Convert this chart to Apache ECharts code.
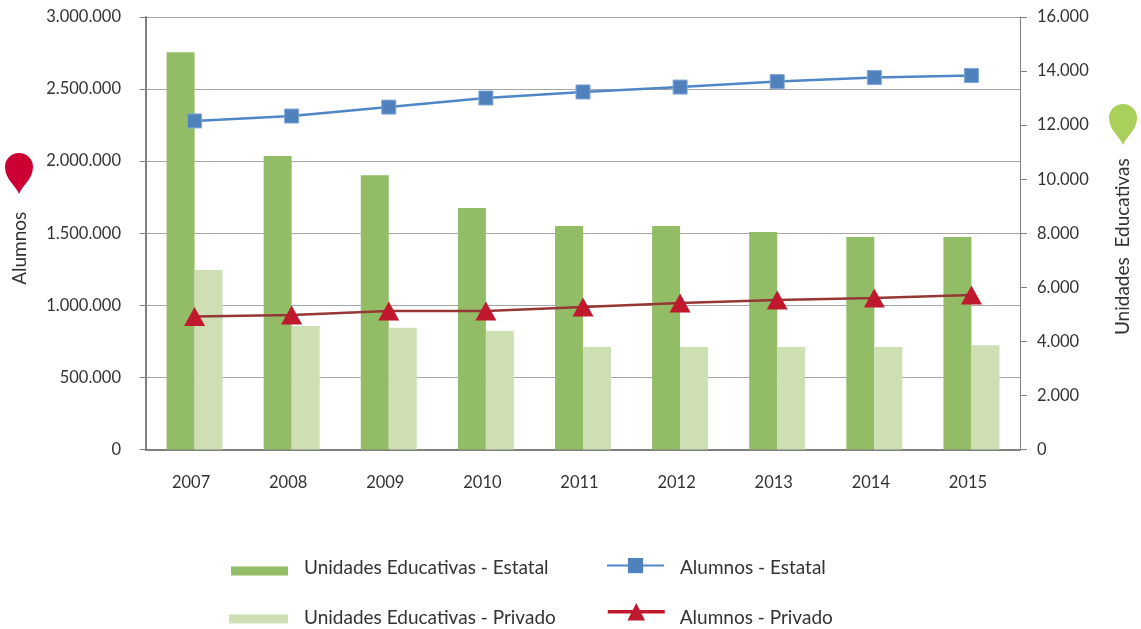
<!DOCTYPE html>
<html>
<head>
<meta charset="utf-8">
<style>
  html, body { margin: 0; padding: 0; background: #fff; }
  #chart { width: 1141px; height: 629px; }
</style>
<script src="https://cdn.jsdelivr.net/npm/echarts@6/dist/echarts.min.js"></script>
</head>
<body>
<div id="chart"></div>
<script>
const years = ['2007', '2008', '2009', '2010', '2011', '2012', '2013', '2014', '2015'];
const unidadesEstatal = [14700, 10860, 10150, 8930, 8270, 8270, 8050, 7860, 7860];
const unidadesPrivado = [6640, 4570, 4500, 4380, 3790, 3790, 3790, 3790, 3860];
const alumnosEstatal = [2279000, 2313000, 2375000, 2438000, 2480000, 2514000, 2552000, 2580000, 2594000];
const alumnosPrivado = [922000, 933000, 960000, 960000, 988000, 1016000, 1037000, 1051000, 1072000];

const font = 'Lato, "Open Sans", sans-serif';
const textColor = '#333';

// icono de marcador (gota) junto a los ejes
echarts.graphic.registerShape('pin', echarts.graphic.extendShape({
	buildPath(ctx) {
		ctx.moveTo(14, 41);
		ctx.bezierCurveTo(11, 33, 0, 26, 0, 14);
		ctx.arc(14, 14, 14, Math.PI, 0, false);
		ctx.bezierCurveTo(28, 26, 17, 33, 14, 41);
		ctx.closePath();
	}
}));

// separador de miles con punto
function miles(v) {
	return String(v).replace(/\B(?=(\d{3})+$)/g, '.');
}

// el texto de la leyenda no va centrado con su simbolo: se desplaza con rich
function legendItem(name, left, top, textPadding, extra) {
	return Object.assign({
		data: [name],
		left: left,
		top: top,
		padding: 0,
		itemWidth: 57,
		itemHeight: 9,
		selectedMode: false,
		formatter: '{a|{name}}',
		textStyle: {
			rich: { a: { fontFamily: font, fontSize: 19, color: textColor, padding: textPadding } }
		}
	}, extra);
}

const myChart = echarts.init(document.getElementById('chart'));
myChart.setOption({
	animation: false,
	grid: { left: 146, right: 121, top: 17, bottom: 179.5 },
	legend: [
		legendItem('Unidades Educativas - Estatal', 231, 558, [0, 0, 7, 11], { icon: 'rect' }),
		legendItem('Unidades Educativas - Privado', 229, 608, [0, 0, 3, 11], { icon: 'rect', itemWidth: 59 }),
		legendItem('Alumnos - Estatal', 606, 558, [4, 0, 0, 11], {
			itemHeight: 19,
			lineStyle: { width: 2 },
			itemStyle: { borderWidth: 0 }
		}),
		legendItem('Alumnos - Privado', 606, 603, [13, 0, 0, 10], {
			itemHeight: 22,
			lineStyle: { color: '#c0192d', width: 3.5 }
		})
	],
	xAxis: {
		type: 'category',
		data: years,
		axisLine: { lineStyle: { color: '#808080', width: 2 } },
		axisTick: { length: 6, alignWithLabel: false, lineStyle: { color: '#808080', width: 1.5 } },
		axisLabel: { margin: 25, padding: [0, 7, 0, 0], fontFamily: font, fontSize: 16.5, color: textColor }
	},
	yAxis: [
		{
			type: 'value',
			min: 0,
			max: 3000000,
			interval: 500000,
			name: 'Alumnos',
			nameLocation: 'middle',
			nameGap: 117,
			nameRotate: 90,
			nameTextStyle: { fontFamily: font, fontSize: 19, color: textColor, padding: [0, 30, 0, 0] },
			axisLine: { show: true, lineStyle: { color: '#808080', width: 2 } },
			axisTick: { show: true, length: 6, lineStyle: { color: '#808080' } },
			axisLabel: { margin: 25, fontFamily: font, fontSize: 16.5, color: textColor, formatter: miles },
			splitLine: { lineStyle: { color: '#a6a6a6', width: 1 } }
		},
		{
			type: 'value',
			min: 0,
			max: 16000,
			interval: 2000,
			name: 'Unidades  Educativas',
			nameLocation: 'middle',
			nameGap: 93,
			nameRotate: 90,
			nameTextStyle: { fontFamily: font, fontSize: 19, color: textColor, padding: [0, 27, 0, 0] },
			axisLine: { show: true, lineStyle: { color: '#808080', width: 1 } },
			axisTick: { show: true, length: 7, lineStyle: { color: '#808080' } },
			axisLabel: { margin: 17, fontFamily: font, fontSize: 16.5, color: textColor, formatter: miles },
			splitLine: { show: false }
		}
	],
	series: [
		{
			name: 'Unidades Educativas - Estatal',
			type: 'bar',
			yAxisIndex: 1,
			data: unidadesEstatal,
			barWidth: 28,
			barGap: 0,
			itemStyle: { color: '#92bd66' }
		},
		{
			name: 'Unidades Educativas - Privado',
			type: 'bar',
			yAxisIndex: 1,
			data: unidadesPrivado,
			barWidth: 28,
			itemStyle: { color: '#cddfb3' }
		},
		{
			name: 'Alumnos - Estatal',
			type: 'line',
			data: alumnosEstatal,
			symbol: 'rect',
			symbolSize: 14,
			showAllSymbol: true,
			lineStyle: { color: '#4f87c6', width: 2.5 },
			itemStyle: { color: '#4f81bd', borderColor: '#7ea6d8', borderWidth: 1 }
		},
		{
			name: 'Alumnos - Privado',
			type: 'line',
			data: alumnosPrivado,
			symbol: 'triangle',
			symbolSize: [21, 19],
			showAllSymbol: true,
			lineStyle: { color: '#953735', width: 2.5 },
			itemStyle: { color: '#c0192d' }
		}
	],
	graphic: [
		{ type: 'pin', x: 5, y: 153, style: { fill: '#cc0033' } },
		{ type: 'pin', x: 1109, y: 104, style: { fill: '#a8d05a' } }
	]
});
</script>
</body>
</html>
